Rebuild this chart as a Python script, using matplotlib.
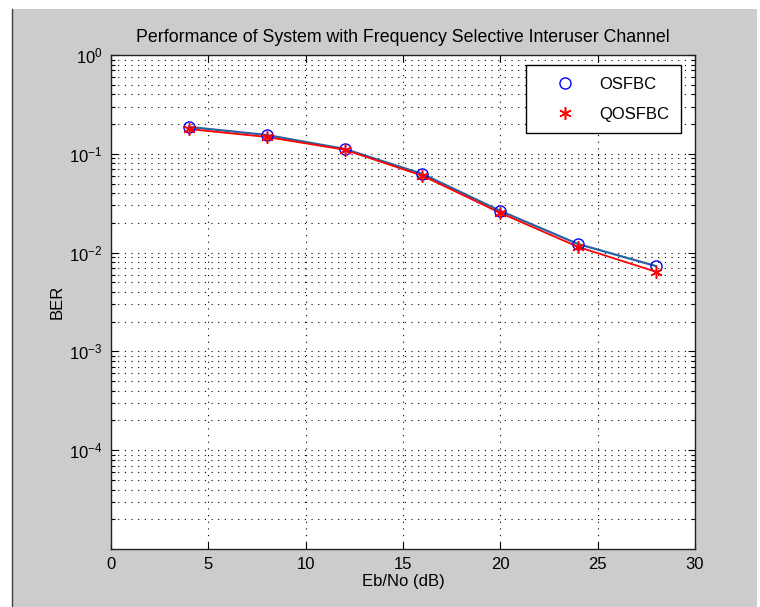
import matplotlib
matplotlib.use("Agg")
import matplotlib.pyplot as plt
from matplotlib.patches import Rectangle
from matplotlib.ticker import LogLocator, NullFormatter, FixedLocator

plt.rcParams['font.family'] = ['Liberation Sans', 'DejaVu Sans']
plt.rcParams['mathtext.default'] = 'regular'

# data
ebno = [4, 8, 12, 16, 20, 24, 28]
ber_osfbc = [0.187, 0.155, 0.112, 0.0625, 0.0264, 0.0122, 0.0073]
ber_qosfbc = [0.178, 0.148, 0.110, 0.0600, 0.0252, 0.0114, 0.0064]

fig = plt.figure(figsize=(7.6, 6.07), dpi=100)
fig.patch.set_facecolor('white')

# MATLAB-like grey figure panel with a dark border on the left
fig.patches.append(Rectangle((12 / 760, 0), 745 / 760, 1 - 9 / 607,
                             transform=fig.transFigure, facecolor='#cccccc',
                             edgecolor='none', zorder=-10))
fig.lines.append(plt.Line2D([12 / 760, 12 / 760], [0, 1 - 9 / 607],
                            transform=fig.transFigure, color='#404040', lw=1))

ax = fig.add_axes([111 / 760, 1 - 549 / 607, 584 / 760, 494 / 607])
ax.set_facecolor('white')

# lines (no legend entry)
ax.plot(ebno, ber_osfbc, '-', color='#2a62a0', lw=1.6, zorder=3)
ax.plot(ebno, ber_qosfbc, '-', color='red', lw=1.3, zorder=3)
# markers (legend entries)
ax.plot(ebno, ber_osfbc, 'o', color='blue', mfc='none', ms=8, mew=1.0,
        label='OSFBC', zorder=4)
ax.plot(ebno, ber_qosfbc, marker=(6, 2, 0), ls='none', color='red', ms=9,
        mew=1.1, label='QOSFBC', zorder=4)

ax.set_yscale('log')
ax.set_xlim(0, 30)
ax.set_ylim(1e-5, 1)
ax.set_xticks([0, 5, 10, 15, 20, 25, 30])
ax.yaxis.set_major_locator(FixedLocator([1e-4, 1e-3, 1e-2, 1e-1, 1]))
ax.yaxis.set_minor_locator(LogLocator(base=10, subs=range(2, 10), numticks=20))
ax.yaxis.set_minor_formatter(NullFormatter())

dot = (0, (1, 5))
ax.grid(True, which='major', axis='both', color='black', linestyle=dot, lw=0.8)
ax.grid(True, which='minor', axis='y', color='black', linestyle=dot, lw=0.8)

ax.tick_params(which='both', direction='in', top=True, right=True,
               labelsize=12, width=0.8)
ax.tick_params(which='major', length=5, pad=6)
ax.tick_params(which='minor', length=3)
for s in ax.spines.values():
    s.set_linewidth(1.0)
    s.set_color('#202020')

ax.set_title('Performance of System with Frequency Selective Interuser Channel',
             fontsize=12.8, pad=9)
ax.set_xlabel('Eb/No (dB)', fontsize=12, labelpad=1)
ax.set_ylabel('BER', fontsize=12, labelpad=3)

leg = ax.legend(loc='upper right', bbox_to_anchor=(0.976, 0.98), fontsize=12,
                fancybox=False, framealpha=1, edgecolor='black',
                handlelength=3.3, handletextpad=0.4, borderpad=0.7,
                labelspacing=0.9, borderaxespad=0)
leg.get_frame().set_linewidth(1.0)

fig.savefig('out.png', dpi=100, facecolor=fig.get_facecolor())
